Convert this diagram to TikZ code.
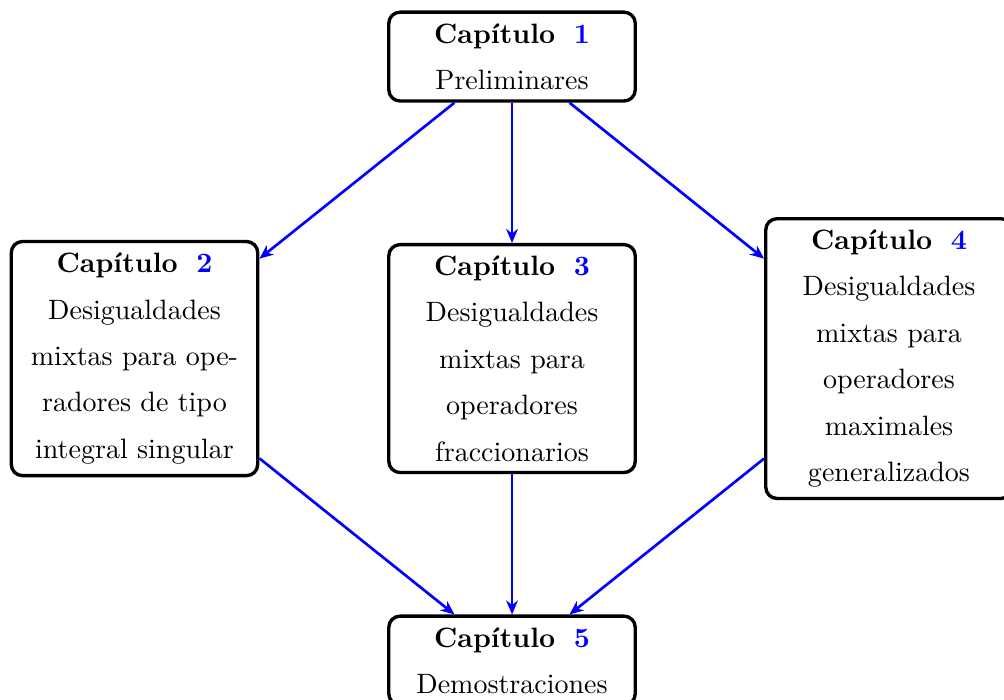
\documentclass[tikz,border=0pt]{standalone}
\usepackage{tikz}
\usetikzlibrary{positioning, calc}
\usetikzlibrary{arrows.meta}

\begin{document}
\begin{tikzpicture}[draw=black!100]
	\def \rowoneht{-0.71cm}
	\def \rowtwoht{-4.50cm}
	\def \rowthreeht{-8.29cm}
	\tikzstyle{c-node}=[draw,very thick,rounded corners=4pt,text width=80pt,inner sep=4pt,align=center,font=\linespread{1.38}\selectfont]
	\tikzstyle{c-edge}=[-{Stealth[length=5pt,width=4.2pt]},line width=0.95pt,blue]
	\newcommand{\capnum}[1]{\textbf{Capítulo\hspace{6.6pt}\textcolor{blue}{#1}}}
	\useasboundingbox (0,0) rectangle (12.6,-8.7725);
	% top
	\node[c-node,minimum height=31.1pt] 	(c1)	at (6.426cm,\rowoneht)
		{\capnum{1}\\Preliminares};
	
	% middle row
	\node[c-node,minimum height=83.6pt] 	(c2)	at (1.688cm,\rowtwoht)
		{\capnum{2}\\Desigualdades\\mixtas para ope-\\radores de tipo\\integral singular};
	\node[c-node,minimum height=81.1pt] 	(c3)	at (6.426cm,\rowtwoht)
		{\capnum{3}\\Desigualdades\\mixtas para\\operadores\\fraccionarios};
	\node[c-node,minimum height=99.3pt] 	(c4)	at (11.157cm,\rowtwoht)
		{\capnum{4}\\Desigualdades\\mixtas para\\operadores\\maximales\\generalizados};
	
	% bottom
	\node[c-node,minimum height=31.1pt] 	(c5)	at (6.426cm,\rowthreeht)
		{\capnum{5}\\Demostraciones};
	
	\path[c-edge]
		(c1)	edge	(c2)
		(c1)	edge	(c3)
		(c1)	edge	(c4)
		%
		(c2)	edge	(c5)
		(c3)	edge	(c5)
		(c4)	edge	(c5);
\end{tikzpicture}
\end{document}
